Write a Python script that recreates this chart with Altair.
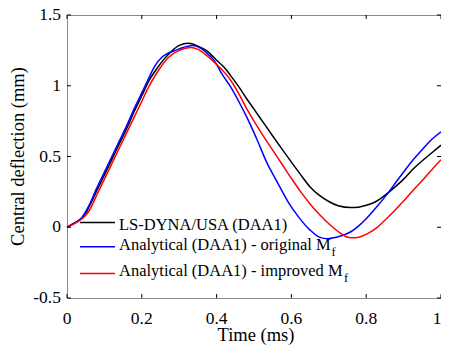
import altair as alt
import pandas as pd

# ---------------- data ----------------
t_black = [0, 0.02, 0.04, 0.05, 0.06, 0.08, 0.10, 0.12, 0.14, 0.16, 0.18, 0.20, 0.22, 0.24,
           0.26, 0.28, 0.30, 0.325, 0.35, 0.375, 0.40, 0.42, 0.438, 0.46, 0.48, 0.50, 0.526,
           0.55, 0.575, 0.60, 0.625, 0.65, 0.675, 0.70, 0.725, 0.758, 0.78, 0.80, 0.825,
           0.85, 0.875, 0.90, 0.925, 0.95, 0.975, 1.0]
v_black = [0, 0.03, 0.065, 0.10, 0.15, 0.26, 0.37, 0.48, 0.59, 0.70, 0.82, 0.93, 1.04, 1.12,
           1.19, 1.245, 1.285, 1.30, 1.28, 1.245, 1.18, 1.13, 1.07, 0.99, 0.91, 0.835, 0.736,
           0.645, 0.552, 0.46, 0.37, 0.285, 0.225, 0.182, 0.152, 0.139, 0.142, 0.155, 0.18,
           0.225, 0.28, 0.34, 0.41, 0.47, 0.525, 0.58]

t_blue = [0, 0.02, 0.04, 0.05, 0.06, 0.08, 0.10, 0.12, 0.14, 0.16, 0.18, 0.20, 0.218, 0.235,
          0.253, 0.27, 0.29, 0.31, 0.335, 0.35, 0.37, 0.394, 0.415, 0.438, 0.46, 0.482, 0.508,
          0.534, 0.56, 0.591, 0.62, 0.65, 0.675, 0.697, 0.72, 0.74, 0.76, 0.78, 0.80, 0.83,
          0.859, 0.88, 0.90, 0.925, 0.95, 0.975, 1.0]
v_blue = [0, 0.03, 0.07, 0.11, 0.16, 0.28, 0.39, 0.50, 0.61, 0.72, 0.84, 0.95, 1.05, 1.14,
          1.20, 1.23, 1.25, 1.27, 1.285, 1.275, 1.24, 1.176, 1.08, 0.99, 0.885, 0.771, 0.62,
          0.458, 0.33, 0.18, 0.07, -0.02, -0.07, -0.081, -0.07, -0.055, -0.03, 0.01, 0.06,
          0.15, 0.245, 0.32, 0.39, 0.475, 0.55, 0.62, 0.675]

t_red = [0, 0.02, 0.04, 0.05, 0.06, 0.08, 0.10, 0.12, 0.14, 0.16, 0.18, 0.20, 0.218, 0.24,
         0.271, 0.30, 0.331, 0.35, 0.375, 0.40, 0.438, 0.46, 0.48, 0.50, 0.526, 0.55, 0.575,
         0.60, 0.625, 0.65, 0.675, 0.70, 0.725, 0.745, 0.762, 0.78, 0.80, 0.825, 0.85, 0.875,
         0.90, 0.925, 0.95, 0.975, 1.0]
v_red = [0, 0.025, 0.06, 0.085, 0.12, 0.23, 0.34, 0.45, 0.56, 0.67, 0.78, 0.89, 0.99, 1.09,
         1.20, 1.25, 1.27, 1.257, 1.21, 1.15, 1.037, 0.94, 0.84, 0.75, 0.64, 0.545, 0.445,
         0.345, 0.25, 0.165, 0.09, 0.025, -0.03, -0.065, -0.074, -0.07, -0.05, -0.01, 0.05,
         0.115, 0.185, 0.26, 0.33, 0.405, 0.477]

series_names = ["LS-DYNA/USA (DAA1)", "Analytical (DAA1) - original M", "Analytical (DAA1) - improved M"]
series_subs = ["", "f", "f"]
series_colors = ["#000000", "#0000ff", "#ff0000"]

x_ticks = [0, 0.2, 0.4, 0.6, 0.8, 1]
x_tick_labels = ["0", "0.2", "0.4", "0.6", "0.8", "1"]
y_ticks = [-0.5, 0, 0.5, 1, 1.5]
y_tick_labels = ["-0.5", "0", "0.5", "1", "1.5"]
x_title = "Time (ms)"
y_title = "Central deflection (mm)"

# ---------------- build ----------------
W, H = 374, 283
TOP = 7
FONT = "Liberation Serif"
GRAY = "#8a8a8a"
TICK_FS = 17.5
TITLE_FS = 18.5

frames = []
for name, ts, vs in zip(series_names, [t_black, t_blue, t_red], [v_black, v_blue, v_red]):
    frames.append(pd.DataFrame({"t": ts, "v": vs, "series": name}))
df = pd.concat(frames, ignore_index=True)

xscale = alt.Scale(domain=[0, 1], nice=False, zero=False)
yscale = alt.Scale(domain=[-0.5, 1.5], nice=False, zero=False)

lines = alt.Chart(df).mark_line(strokeWidth=1.5, interpolate="monotone").encode(
    x=alt.X("t:Q", scale=xscale, axis=None),
    y=alt.Y("v:Q", scale=yscale, axis=None),
    color=alt.Color("series:N", scale=alt.Scale(domain=series_names, range=series_colors),
                    legend=None),
)

xt = pd.DataFrame({"t": x_ticks, "lab": x_tick_labels})
yt = pd.DataFrame({"v": y_ticks, "lab": y_tick_labels})
TL = 4
tick_layers = [
    alt.Chart(xt).mark_rule(color="black", strokeWidth=1).encode(
        x=alt.X("t:Q", axis=None), y=alt.value(H), y2=alt.value(H - TL)),
    alt.Chart(xt).mark_rule(color="black", strokeWidth=1).encode(
        x=alt.X("t:Q", axis=None), y=alt.value(0), y2=alt.value(TL)),
    alt.Chart(yt).mark_rule(color="black", strokeWidth=1).encode(
        y=alt.Y("v:Q", axis=None), x=alt.value(0), x2=alt.value(TL)),
    alt.Chart(yt).mark_rule(color="black", strokeWidth=1).encode(
        y=alt.Y("v:Q", axis=None), x=alt.value(W), x2=alt.value(W - TL)),
    # tick labels (the last one is right-aligned so it stays inside the page)
    alt.Chart(xt.iloc[:-1]).mark_text(align="center", baseline="alphabetic", font=FONT,
                                      fontSize=TICK_FS, color="black").encode(
        x=alt.X("t:Q", axis=None), y=alt.value(H + 25.5), text="lab:N"),
    alt.Chart(xt.iloc[-1:]).mark_text(align="right", baseline="alphabetic", font=FONT,
                                      fontSize=TICK_FS, color="black", dx=0.5).encode(
        x=alt.X("t:Q", axis=None), y=alt.value(H + 25.5), text="lab:N"),
    alt.Chart(yt).mark_text(align="right", baseline="middle", font=FONT,
                            fontSize=TICK_FS, color="black").encode(
        y=alt.Y("v:Q", axis=None), x=alt.value(-6), text="lab:N"),
]

one = pd.DataFrame({"k": [0]})
title_layers = [
    alt.Chart(one).mark_text(align="center", baseline="alphabetic", font=FONT,
                             fontSize=TITLE_FS, color="black").encode(
        x=alt.value(W / 2 + 2), y=alt.value(H + 43), text=alt.value(x_title)),
    alt.Chart(one).mark_text(align="center", baseline="alphabetic", font=FONT,
                             fontSize=TITLE_FS, color="black", angle=270).encode(
        x=alt.value(-43), y=alt.value(H / 2), text=alt.value(y_title)),
]

legend_line_y = [207.5, 231.7, 258.5]
legend_text_y = [215, 235, 261]
sub_x = [0, 264.5, 277]
sub_y = [0, 241, 267]
legend_layers = []
for i, (name, sub, col) in enumerate(zip(series_names, series_subs, series_colors)):
    legend_layers.append(
        alt.Chart(one).mark_rule(color=col, strokeWidth=1.5).encode(
            x=alt.value(13), x2=alt.value(48), y=alt.value(legend_line_y[i])))
    legend_layers.append(
        alt.Chart(one).mark_text(align="left", baseline="alphabetic", font=FONT,
                                 fontSize=16.5, color="black").encode(
            x=alt.value(52), y=alt.value(legend_text_y[i]), text=alt.value(name)))
    if sub:
        legend_layers.append(
            alt.Chart(one).mark_text(align="left", baseline="alphabetic", font=FONT,
                                     fontSize=12.5, color="black").encode(
                x=alt.value(sub_x[i]), y=alt.value(sub_y[i]), text=alt.value(sub)))

chart = alt.layer(lines, *tick_layers, *title_layers, *legend_layers).properties(
    width=W, height=H,
    autosize=alt.AutoSizeParams(type="none"),
    padding={"left": 59, "top": TOP, "right": 0, "bottom": 47},
).configure_view(
    stroke=GRAY, strokeWidth=1
)

chart.save("out.html", embed_options={"renderer": "svg", "actions": False})
